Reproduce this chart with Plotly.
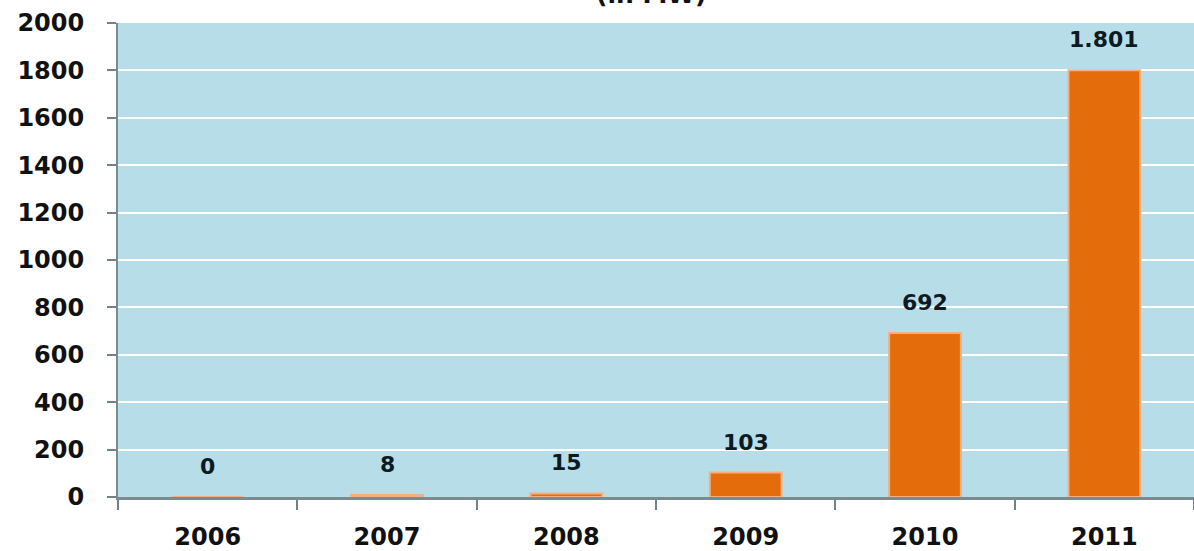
import plotly.graph_objects as go

years = ["2006", "2007", "2008", "2009", "2010", "2011"]
values = [0, 8, 15, 103, 692, 1801]
value_labels = ["0", "8", "15", "103", "692", "1.801"]
y_ticks = [0, 200, 400, 600, 800, 1000, 1200, 1400, 1600, 1800, 2000]
title_text = "(in MW)"

FONT = "DejaVu Sans"

fig = go.Figure()
fig.add_trace(go.Bar(
    x=years, y=values, width=0.4,
    marker=dict(color="#E46C0A", line=dict(color="#F3B07E", width=2)),
    hoverinfo="skip",
))

for i, (v, lab) in enumerate(zip(values, value_labels)):
    fig.add_annotation(x=i, y=v, text=lab, showarrow=False,
                       yanchor="bottom", yshift=16,
                       font=dict(family=FONT, size=22, color="#0E1A22", weight="bold"))

fig.add_annotation(x=0.5, xref="paper", y=1, yref="paper", text=title_text,
                   showarrow=False, yanchor="bottom", yshift=12, xshift=-5,
                   font=dict(family=FONT, size=25, color="#111", weight="bold"))

fig.update_layout(
    width=1194, height=551,
    margin=dict(l=118, r=0, t=23, b=54),
    paper_bgcolor="white", plot_bgcolor="#B7DEE8",
    showlegend=False,
    font=dict(family=FONT, size=24, color="#111"),
)
fig.update_xaxes(
    type="category", range=[-0.5, len(years) - 0.5],
    tickson="boundaries", ticks="outside", ticklen=10,
    tickcolor="#6F8388", tickwidth=2, showline=True, linecolor="#7A8B90", linewidth=3,
    showgrid=False, ticklabelstandoff=16,
    tickfont=dict(family=FONT, size=24, color="#111", weight="bold"),
)
fig.update_yaxes(
    range=[0, 2000], tickvals=y_ticks,
    ticks="outside", ticklen=9, tickcolor="#6F8388", tickwidth=2,
    showline=True, linecolor="#7A8B90", linewidth=2,
    showgrid=True, gridcolor="white", gridwidth=2, zeroline=False,
    ticklabelstandoff=18,
    tickfont=dict(family=FONT, size=24, color="#111", weight="bold"),
)

fig.write_html("out.html")
